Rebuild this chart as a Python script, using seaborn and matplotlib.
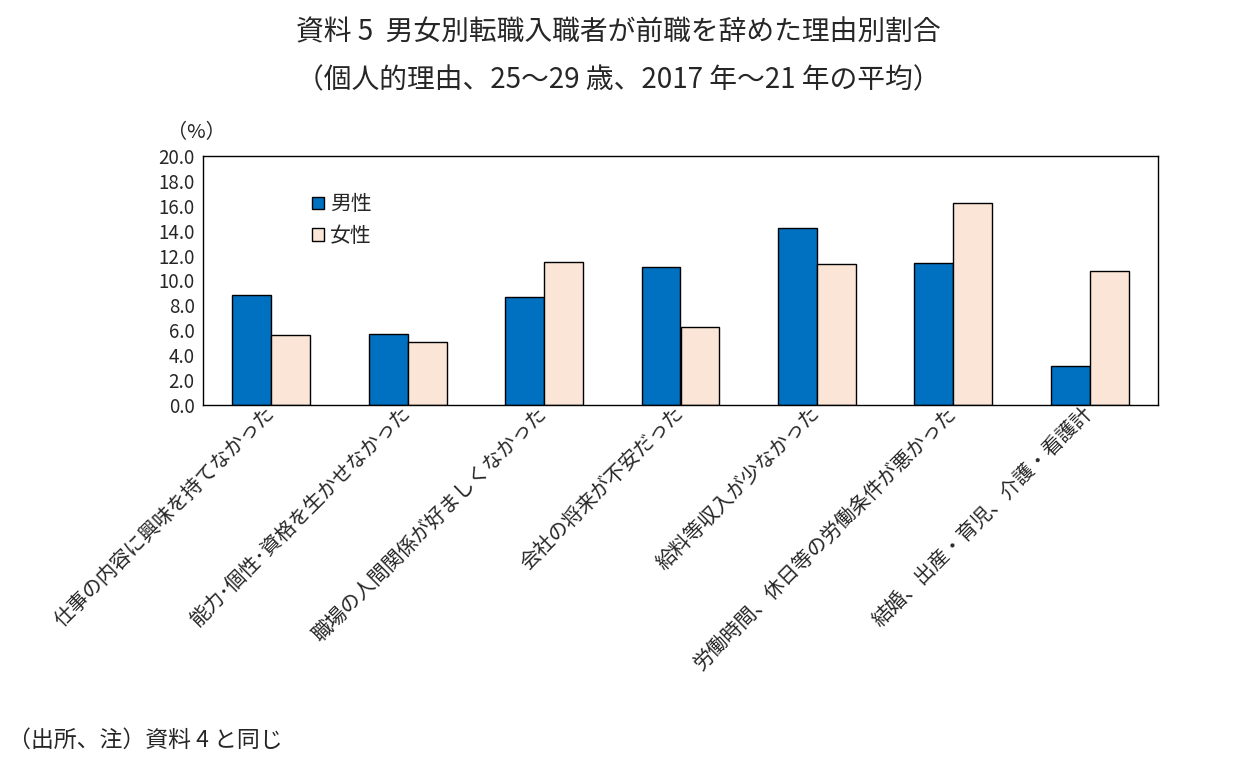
import pandas as pd
import numpy as np
import matplotlib.pyplot as plt
import seaborn as sns

sns.set_theme(style="white")
plt.rcParams['font.family'] = ['Noto Sans CJK JP', 'DejaVu Sans']

reasons = ['仕事の内容に興味を持てなかった', '能力･個性･資格を生かせなかった',
           '職場の人間関係が好ましくなかった', '会社の将来が不安だった',
           '給料等収入が少なかった', '労働時間、休日等の労働条件が悪かった',
           '結婚、出産・育児、介護・看護計']
male = [8.8, 5.7, 8.7, 11.1, 14.2, 11.4, 3.1]
female = [5.6, 5.1, 11.5, 6.3, 11.3, 16.2, 10.8]
sexes = ['男性', '女性']
colors = ['#0070C0', '#FBE5D6']

df = pd.DataFrame({
    'reason': reasons * 2,
    'sex': [sexes[0]] * len(reasons) + [sexes[1]] * len(reasons),
    'value': male + female,
})

fig = plt.figure(figsize=(12.37, 7.6), dpi=100)
ax = fig.add_axes([203 / 1237, 1 - 405 / 760, 955 / 1237, 249 / 760])

sns.barplot(data=df, x='reason', y='value', hue='sex', palette=colors,
            saturation=1, width=0.57, edgecolor='black', linewidth=1.0, ax=ax)

ax.set_ylim(0, 20)
ax.set_xlim(-0.5, len(reasons) - 0.5)
ax.set_yticks(np.arange(0, 20.1, 2))
ax.set_yticklabels([f'{v:.1f}' for v in np.arange(0, 20.1, 2)], fontsize=13.5)
ax.set_xlabel('')
ax.set_ylabel('')
ax.tick_params(axis='x', length=0, pad=4)
ax.tick_params(axis='y', length=0, pad=6)
for lab in ax.get_xticklabels():
    lab.set_rotation(45)
    lab.set_ha('right')
    lab.set_va('center')
    lab.set_rotation_mode('anchor')
    lab.set_fontsize(14.5)
for sp in ax.spines.values():
    sp.set_color('black')
    sp.set_linewidth(1.0)

ax.legend(loc='upper left', bbox_to_anchor=(0.095, 0.925), frameon=False,
          fontsize=15, handlelength=0.55, handleheight=0.55, handletextpad=0.3,
          labelspacing=0.45)

fig.text(0.5, 1 - 32 / 760, '資料 5  男女別転職入職者が前職を辞めた理由別割合',
         ha='center', va='center', fontsize=20)
fig.text(0.5, 1 - 80 / 760, '（個人的理由、25～29 歳、2017 年～21 年の平均）',
         ha='center', va='center', fontsize=20)
fig.text(196 / 1237, 1 - 133 / 760, '（%）', ha='center', va='center', fontsize=14.5)
fig.text(8 / 1237, 1 - 740 / 760, '（出所、注）資料 4 と同じ', ha='left', va='center',
         fontsize=16.5)

fig.savefig('out.png', dpi=100)
